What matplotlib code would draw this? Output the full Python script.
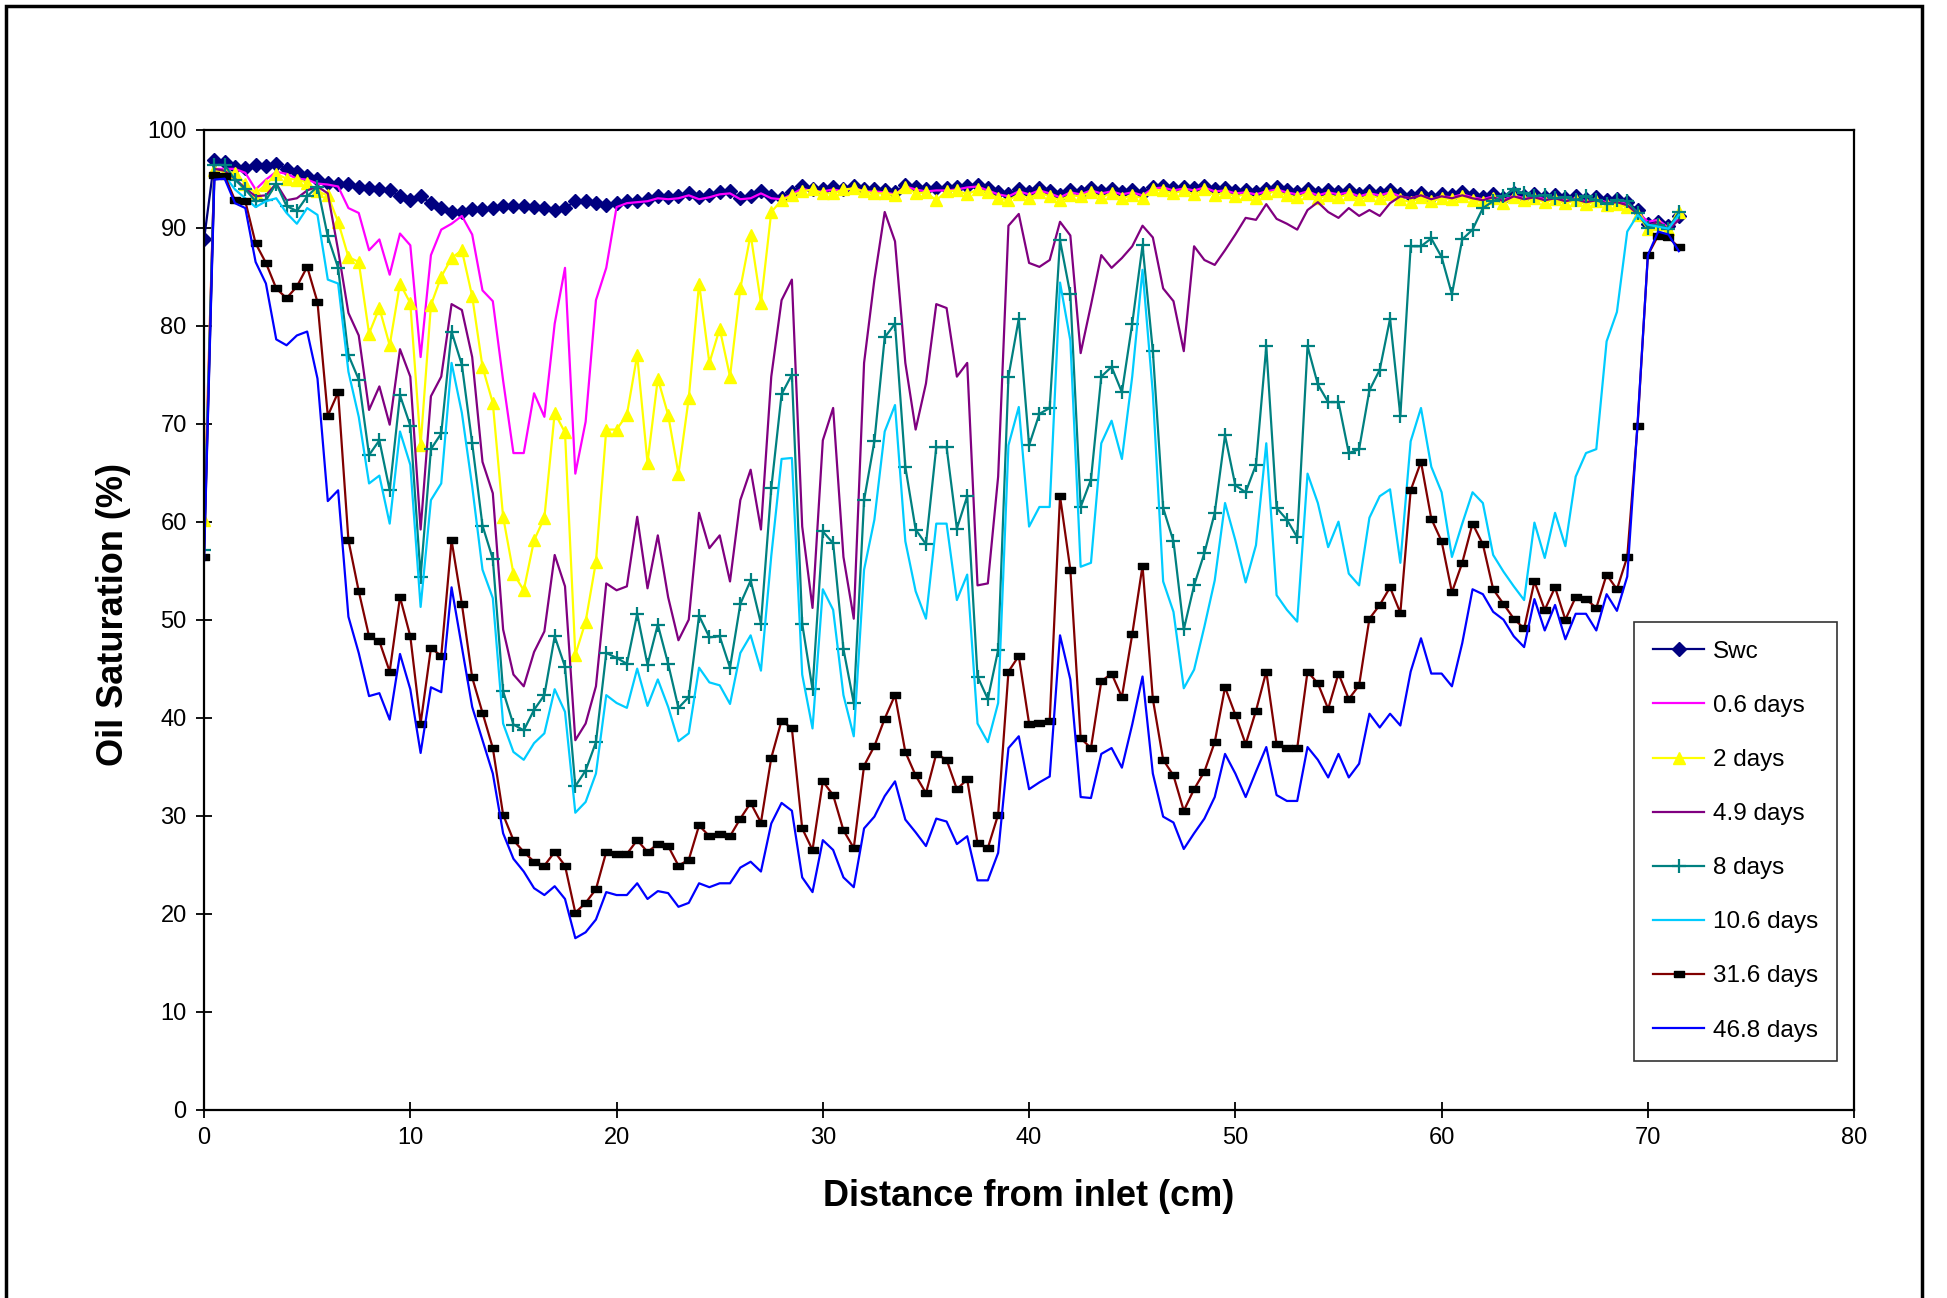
import numpy as np
import matplotlib
matplotlib.use("Agg")
import matplotlib.pyplot as plt
from matplotlib.patches import Rectangle

plt.rcParams['font.family'] = ['Liberation Sans', 'DejaVu Sans']

# distance from inlet (cm), one reading every 0.5 cm
distance = np.arange(144) * 0.5

swc = [
    88.8, 96.9, 96.7, 96.2, 96.1, 96.4, 96.3, 96.5, 96.0, 95.7,
    95.3, 95.0, 94.6, 94.5, 94.5, 94.2, 94.0, 93.9, 93.8, 93.2,
    92.8, 93.2, 92.5, 92.0, 91.6, 91.6, 91.9, 91.9, 92.0, 92.2,
    92.2, 92.2, 92.1, 92.0, 91.8, 92.0, 92.7, 92.7, 92.5, 92.3,
    92.5, 92.7, 92.7, 92.9, 93.2, 93.1, 93.2, 93.5, 93.1, 93.3,
    93.6, 93.7, 93.0, 93.2, 93.7, 93.2, 93.0, 93.6, 94.3, 93.9,
    93.9, 94.1, 93.9, 94.3, 93.9, 93.9, 93.8, 93.6, 94.4, 94.1,
    93.9, 94.0, 94.0, 94.1, 94.3, 94.4, 94.0, 93.6, 93.4, 93.9,
    93.6, 94.0, 93.7, 93.3, 93.8, 93.6, 94.0, 93.7, 93.9, 93.6,
    93.8, 93.5, 94.2, 94.3, 94.0, 94.2, 94.0, 94.3, 93.9, 94.0,
    93.7, 93.8, 93.6, 93.9, 94.1, 93.8, 93.6, 93.9, 93.5, 93.8,
    93.6, 93.8, 93.4, 93.7, 93.5, 93.8, 93.4, 93.2, 93.5, 93.1,
    93.4, 93.3, 93.6, 93.3, 93.1, 93.4, 93.0, 93.5, 93.2, 93.4,
    93.1, 93.3, 93.0, 93.2, 92.9, 93.1, 92.8, 92.9, 92.6, 91.8,
    90.4, 90.6, 90.2, 91.2,
]

d0_6 = [
    60.0, 96.0, 96.0, 96.0, 95.6, 93.9, 94.9, 95.7, 95.5, 95.0,
    94.9, 94.5, 94.4, 94.2, 92.0, 91.5, 87.7, 88.8, 85.2, 89.4,
    88.2, 76.8, 87.2, 89.8, 90.4, 91.2, 89.3, 83.6, 82.5, 74.4,
    67.0, 67.0, 73.1, 70.7, 80.2, 85.9, 64.9, 70.2, 82.6, 85.9,
    92.1, 92.5, 92.6, 92.7, 93.0, 92.9, 93.0, 93.3, 92.9, 93.1,
    93.4, 93.5, 92.9, 93.0, 93.5, 93.0, 92.9, 93.4, 94.0, 93.7,
    93.7, 93.9, 93.7, 94.1, 93.7, 93.7, 93.6, 93.4, 94.2, 93.9,
    93.7, 93.8, 93.8, 93.9, 94.1, 94.2, 93.8, 93.4, 93.2, 93.7,
    93.4, 93.8, 93.5, 93.1, 93.6, 93.4, 93.8, 93.5, 93.7, 93.4,
    93.6, 93.3, 94.0, 94.1, 93.8, 94.0, 93.8, 94.1, 93.7, 93.8,
    93.5, 93.6, 93.4, 93.7, 93.9, 93.6, 93.4, 93.7, 93.3, 93.6,
    93.4, 93.6, 93.2, 93.5, 93.3, 93.6, 93.2, 93.0, 93.3, 92.9,
    93.2, 93.1, 93.4, 93.1, 92.9, 93.2, 92.8, 93.3, 93.0, 93.2,
    92.9, 93.1, 92.8, 93.0, 92.7, 92.9, 92.6, 92.7, 92.4, 91.6,
    90.6, 90.8, 90.0, 91.0,
]

d2 = [
    60.2, 95.9, 95.7, 95.6, 94.5, 93.5, 94.4, 95.5, 95.0, 94.9,
    94.6, 93.7, 93.3, 90.6, 87.0, 86.5, 79.2, 81.8, 78.0, 84.3,
    82.3, 67.8, 82.1, 85.0, 86.9, 87.7, 83.0, 75.8, 72.1, 60.5,
    54.7, 53.0, 58.1, 60.4, 71.1, 69.1, 46.4, 49.8, 55.9, 69.4,
    69.4, 70.9, 77.0, 66.0, 74.6, 70.9, 64.9, 72.6, 84.3, 76.2,
    79.7, 74.8, 83.8, 89.3, 82.3, 91.6, 92.8, 93.3, 93.7, 93.9,
    93.5, 93.5, 93.9, 94.0, 93.7, 93.5, 93.5, 93.3, 94.2, 93.5,
    93.6, 92.8, 93.7, 93.8, 93.4, 93.9, 93.6, 93.0, 92.8, 93.4,
    93.0, 93.6, 93.2, 92.8, 93.3, 93.2, 93.6, 93.1, 93.5, 93.0,
    93.3, 93.0, 93.9, 93.8, 93.5, 93.8, 93.4, 93.9, 93.3, 93.6,
    93.2, 93.4, 93.0, 93.5, 93.7, 93.3, 93.1, 93.5, 93.0, 93.3,
    93.1, 93.4, 92.9, 93.3, 93.0, 93.4, 92.9, 92.6, 93.1, 92.7,
    93.0, 92.9, 93.2, 92.8, 92.6, 93.0, 92.5, 93.1, 92.8, 93.0,
    92.6, 92.9, 92.5, 92.8, 92.4, 92.7, 92.3, 92.4, 92.1, 91.3,
    89.9, 90.4, 89.9, 91.6,
]

d4_9 = [
    58.0, 96.0, 95.8, 95.0, 94.0, 93.2, 93.3, 94.5, 92.8, 93.0,
    93.8, 94.2, 93.5, 87.7, 81.3, 79.0, 71.4, 73.8, 69.9, 77.6,
    74.8, 59.2, 72.8, 74.8, 82.2, 81.6, 76.8, 66.1, 62.9, 49.0,
    44.4, 43.2, 46.7, 48.8, 56.6, 53.4, 37.7, 39.4, 43.2, 53.7,
    53.0, 53.4, 60.5, 53.2, 58.6, 52.3, 47.9, 50.0, 60.9, 57.3,
    58.6, 53.9, 62.2, 65.3, 59.2, 74.8, 82.6, 84.7, 59.5, 51.2,
    68.3, 71.6, 56.4, 50.1, 76.2, 84.7, 91.6, 88.6, 76.2, 69.4,
    74.1, 82.2, 81.8, 74.8, 76.2, 53.5, 53.7, 64.6, 90.2, 91.4,
    86.4, 86.0, 86.7, 90.6, 89.2, 77.2, 82.1, 87.2, 85.9, 86.9,
    88.1, 90.2, 89.0, 83.8, 82.5, 77.4, 88.1, 86.7, 86.2, 87.7,
    89.3, 91.0, 90.8, 92.4, 90.9, 90.4, 89.8, 91.8, 92.6, 91.6,
    91.0, 92.0, 91.2, 91.8, 91.2, 92.5, 93.2, 93.0, 93.3, 92.9,
    93.2, 93.0, 93.3, 93.0, 92.8, 93.1, 92.7, 93.2, 92.9, 93.1,
    92.8, 93.0, 92.7, 92.9, 92.6, 92.8, 92.5, 92.6, 92.3, 91.4,
    90.2, 90.6, 89.8, 90.8,
]

d8 = [
    57.1, 96.4, 96.4, 94.9, 93.9, 92.7, 92.8, 94.5, 92.2, 91.7,
    93.2, 94.2, 89.1, 85.9, 77.0, 74.5, 66.8, 68.3, 63.2, 72.9,
    69.8, 54.4, 67.4, 69.0, 79.4, 76.0, 68.0, 59.6, 56.2, 42.7,
    39.3, 38.7, 40.8, 42.3, 48.3, 45.2, 33.0, 34.6, 37.5, 46.6,
    46.1, 45.5, 50.6, 45.4, 49.5, 45.5, 41.0, 42.1, 50.4, 48.2,
    48.3, 45.1, 51.6, 54.0, 49.6, 63.4, 73.0, 75.0, 49.6, 42.9,
    59.0, 57.8, 47.0, 41.5, 62.2, 68.2, 78.8, 80.2, 65.6, 59.2,
    57.7, 67.6, 67.6, 59.3, 62.6, 44.2, 41.9, 46.9, 74.8, 80.7,
    67.8, 71.0, 71.6, 88.7, 83.2, 61.5, 64.3, 74.8, 75.8, 73.2,
    80.2, 88.2, 77.4, 61.4, 58.0, 49.0, 53.5, 56.8, 60.9, 68.8,
    63.7, 63.0, 65.8, 77.9, 61.4, 60.2, 58.4, 77.9, 74.0, 72.2,
    72.2, 67.0, 67.4, 73.4, 75.5, 80.7, 70.8, 88.1, 88.1, 88.9,
    87.0, 83.2, 88.8, 89.8, 92.0, 92.7, 93.2, 93.9, 93.5, 93.2,
    93.3, 93.0, 93.1, 92.8, 93.2, 92.8, 92.4, 92.8, 92.7, 91.5,
    90.0, 90.3, 89.9, 91.6,
]

d10_6 = [
    57.0, 95.5, 95.3, 93.9, 93.0, 92.1, 92.7, 93.0, 91.5, 90.4,
    92.0, 91.3, 84.7, 84.3, 75.3, 70.7, 63.9, 64.7, 59.8, 69.2,
    65.8, 51.3, 62.2, 63.9, 76.2, 71.1, 63.6, 55.1, 52.2, 39.4,
    36.5, 35.7, 37.4, 38.4, 42.9, 40.6, 30.3, 31.4, 34.3, 42.3,
    41.5, 41.0, 45.0, 41.2, 43.9, 41.1, 37.6, 38.4, 45.1, 43.6,
    43.3, 41.4, 46.6, 48.4, 44.8, 56.5, 66.4, 66.5, 44.4, 38.9,
    53.1, 51.0, 42.3, 38.1, 55.1, 60.2, 69.2, 71.9, 58.0, 52.9,
    50.1, 59.8, 59.8, 52.0, 54.6, 39.4, 37.5, 41.5, 67.8, 71.7,
    59.5, 61.5, 61.5, 84.4, 78.5, 55.4, 55.8, 68.0, 70.3, 66.4,
    74.8, 85.7, 73.1, 53.9, 50.8, 43.0, 44.9, 49.3, 54.0, 61.9,
    58.1, 53.8, 57.6, 68.0, 52.5, 51.0, 49.8, 64.9, 61.9, 57.4,
    60.0, 54.7, 53.5, 60.4, 62.6, 63.3, 55.8, 68.2, 71.6, 65.6,
    63.0, 56.4, 59.8, 63.0, 61.9, 56.6, 54.9, 53.4, 52.0, 59.9,
    56.3, 60.9, 57.5, 64.6, 67.0, 67.4, 78.4, 81.4, 89.6, 91.3,
    90.3, 90.1, 89.9, 91.3,
]

d31_6 = [
    56.4, 95.4, 95.3, 92.8, 92.7, 88.4, 86.4, 83.8, 82.8, 84.0,
    86.0, 82.4, 70.8, 73.2, 58.1, 52.9, 48.3, 47.8, 44.7, 52.3,
    48.3, 39.4, 47.1, 46.3, 58.1, 51.6, 44.1, 40.5, 36.9, 30.1,
    27.5, 26.3, 25.3, 24.9, 26.3, 24.9, 20.1, 21.1, 22.5, 26.3,
    26.1, 26.1, 27.5, 26.3, 27.1, 26.9, 24.9, 25.5, 29.0, 27.9,
    28.1, 27.9, 29.7, 31.3, 29.3, 35.9, 39.7, 38.9, 28.7, 26.5,
    33.5, 32.1, 28.5, 26.7, 35.1, 37.1, 39.9, 42.3, 36.5, 34.1,
    32.3, 36.3, 35.7, 32.7, 33.7, 27.2, 26.7, 30.1, 44.7, 46.3,
    39.4, 39.5, 39.7, 62.6, 55.1, 37.9, 36.9, 43.7, 44.5, 42.1,
    48.5, 55.5, 41.9, 35.7, 34.1, 30.5, 32.7, 34.5, 37.5, 43.1,
    40.3, 37.3, 40.7, 44.7, 37.3, 36.9, 36.9, 44.7, 43.5, 40.9,
    44.5, 41.9, 43.3, 50.1, 51.5, 53.3, 50.7, 63.2, 66.1, 60.3,
    58.0, 52.8, 55.8, 59.8, 57.7, 53.1, 51.6, 50.1, 49.1, 53.9,
    51.0, 53.3, 50.0, 52.3, 52.1, 51.2, 54.6, 53.1, 56.4, 69.8,
    87.2, 89.2, 89.0, 88.0,
]

d46_8 = [
    56.0, 94.9, 95.0, 92.5, 92.0, 86.5, 84.3, 78.6, 78.0, 79.0,
    79.4, 74.6, 62.1, 63.2, 50.3, 46.6, 42.2, 42.5, 39.8, 46.5,
    42.9, 36.4, 43.1, 42.6, 53.3, 47.2, 41.1, 37.7, 34.3, 28.2,
    25.6, 24.3, 22.6, 21.9, 22.8, 21.5, 17.5, 18.1, 19.4, 22.2,
    21.9, 21.9, 23.1, 21.5, 22.3, 22.1, 20.7, 21.1, 23.1, 22.7,
    23.1, 23.1, 24.7, 25.3, 24.3, 29.2, 31.3, 30.5, 23.7, 22.2,
    27.5, 26.5, 23.7, 22.7, 28.7, 29.9, 32.0, 33.5, 29.6, 28.3,
    26.9, 29.7, 29.4, 27.1, 27.9, 23.4, 23.4, 26.2, 36.9, 38.1,
    32.7, 33.4, 34.0, 48.4, 43.9, 31.9, 31.8, 36.3, 36.9, 34.9,
    39.3, 44.2, 34.3, 29.9, 29.3, 26.6, 28.2, 29.7, 31.9, 36.3,
    34.3, 31.9, 34.5, 37.0, 32.1, 31.5, 31.5, 37.0, 35.7, 33.9,
    36.3, 33.9, 35.3, 40.4, 39.0, 40.4, 39.2, 44.7, 48.1, 44.5,
    44.5, 43.2, 47.6, 53.1, 52.6, 50.8, 50.0, 48.3, 47.2, 52.1,
    48.9, 51.5, 48.0, 50.6, 50.6, 48.9, 52.6, 50.9, 54.4, 70.0,
    87.2, 89.6, 89.3, 87.6,
]

labels = ['Swc', '0.6 days', '2 days', '4.9 days', '8 days', '10.6 days',
          '31.6 days', '46.8 days']

# flat black dash used as the 31.6 days marker
dash = [(-1, -0.55), (1, -0.55), (1, 0.55), (-1, 0.55), (-1, -0.55)]

styles = [
    dict(color='#000080', marker='D', ms=6.8, mfc='#000080', mec='#000080'),
    dict(color='#FF00FF', marker=None),
    dict(color='#FFFF00', marker='^', ms=9, mfc='#FFFF00', mec='#FFFF00'),
    dict(color='#800080', marker=None),
    dict(color='#008080', marker='+', ms=10, mew=1.6),
    dict(color='#00CCFF', marker=None),
    dict(color='#800000', marker=dash, ms=7, mfc='black', mec='black'),
    dict(color='#0000FF', marker=None),
]

series = [swc, d0_6, d2, d4_9, d8, d10_6, d31_6, d46_8]

fig = plt.figure(figsize=(19.47, 12.98), dpi=100)
ax = fig.add_axes([0.1048, 0.1451, 0.8475, 0.7550])

for vals, lab, st in zip(series, labels, styles):
    ax.plot(distance, vals, lw=1.6, label=lab, **st)

ax.set_xlim(0, 80)
ax.set_ylim(0, 100)
ax.set_xticks(np.arange(0, 81, 10))
ax.set_yticks(np.arange(0, 101, 10))
ax.tick_params(direction='inout', length=11, width=1.3, labelsize=17, pad=7)
for sp in ax.spines.values():
    sp.set_linewidth(1.6)
    sp.set_color('black')

ax.set_xlabel('Distance from inlet (cm)', fontsize=26, fontweight='bold')
ax.set_ylabel('Oil Saturation (%)', fontsize=26, fontweight='bold')
ax.xaxis.set_label_coords(0.5, -0.071)
ax.yaxis.set_label_coords(-0.044, 0.505)

leg = ax.legend(loc='upper left', bbox_to_anchor=(0.8667, 0.4977),
                borderaxespad=0, fontsize=17.5, frameon=True, fancybox=False,
                edgecolor='black', handlelength=2.1, handletextpad=0.35,
                labelspacing=1.32, borderpad=0.78)
leg.get_frame().set_linewidth(1.2)

# outer frame of the original sheet
fig.patches.append(Rectangle((6 / 1947, -0.05), 1916 / 1947, 1.05 - 6 / 1298,
                             transform=fig.transFigure, fill=False,
                             edgecolor='black', linewidth=2.5))

fig.savefig('out.png', dpi=100)
